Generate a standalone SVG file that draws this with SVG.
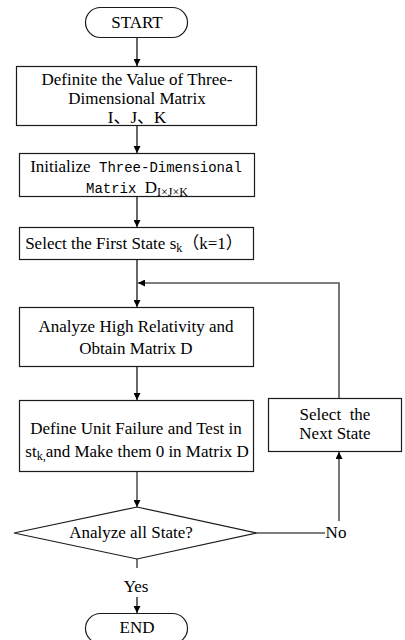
<svg xmlns="http://www.w3.org/2000/svg" width="405" height="640" viewBox="0 0 405 640">
  <style>
    .box { fill: #fff; stroke: #1a1a1a; stroke-width: 1.2; }
    .t { font-family: "Liberation Serif", "Noto Sans CJK SC", serif; font-size: 17px; fill: #000; text-anchor: middle; }
    .mono { font-family: "Liberation Mono", monospace; font-size: 14px; }
    .sub { font-size: 12px; }
    .ln { fill: none; stroke: #000; stroke-width: 1.2; }
    .lg { fill: none; stroke: #555; stroke-width: 1.6; }
  </style>
  <defs>
    <marker id="arr" viewBox="0 0 10 10" refX="10" refY="5" markerWidth="7" markerHeight="7" markerUnits="userSpaceOnUse" orient="auto">
      <path d="M0,0 L10,5 L0,10 Z" fill="#000"/>
    </marker>
  </defs>

  <!-- connectors -->
  <g id="connectors">
    <line class="ln" x1="137" y1="37" x2="137" y2="66" marker-end="url(#arr)"/>
    <line class="ln" x1="137" y1="126" x2="137" y2="153" marker-end="url(#arr)"/>
    <line class="ln" x1="137" y1="197" x2="137" y2="227" marker-end="url(#arr)"/>
    <line class="ln" x1="137" y1="259" x2="137" y2="307" marker-end="url(#arr)"/>
    <polyline class="lg" points="339,398 339,283 138,283" marker-end="url(#arr)"/>
    <line class="ln" x1="137" y1="367" x2="137" y2="400" marker-end="url(#arr)"/>
    <line class="lg" x1="137" y1="472" x2="137" y2="507" marker-end="url(#arr)"/>
    <line class="lg" x1="257" y1="533" x2="325" y2="533"/>
    <line class="lg" x1="339" y1="521" x2="339" y2="452" marker-end="url(#arr)"/>
    <line class="lg" x1="137" y1="559" x2="137" y2="568"/>
    <line class="ln" x1="137" y1="597" x2="137" y2="613" marker-end="url(#arr)"/>
    <text class="t" x="336" y="538">No</text>
    <text class="t" x="136" y="592">Yes</text>
  </g>

  <g id="start">
    <rect class="box" x="85.5" y="7.5" width="102" height="30" rx="15"/>
    <text class="t" x="137" y="28">START</text>
  </g>

  <g id="define-ijk">
    <rect class="box" x="16.5" y="66.5" width="240" height="59"/>
    <text class="t" x="137" y="85">Definite the Value of Three-</text>
    <text class="t" x="137" y="104">Dimensional Matrix</text>
    <text class="t" x="137" y="123">I、J、K</text>
  </g>

  <g id="init-matrix">
    <rect class="box" x="19.5" y="153.5" width="235" height="43"/>
    <text class="t" x="136" y="172">Initialize<tspan class="mono"> Three-Dimensional</tspan></text>
    <text class="t" x="137" y="193"><tspan class="mono">Matrix </tspan>D<tspan class="sub" dy="3">I×J×K</tspan></text>
  </g>

  <g id="first-state">
    <rect class="box" x="19.5" y="227.5" width="234" height="32"/>
    <text class="t" x="134" y="249">Select the First State s<tspan class="sub" dy="3">k</tspan><tspan dy="-3">（k=1）</tspan></text>
  </g>

  <g id="relativity">
    <rect class="box" x="19.5" y="307.5" width="234" height="59"/>
    <text class="t" x="136" y="332">Analyze High Relativity and</text>
    <text class="t" x="136" y="354">Obtain Matrix D</text>
  </g>

  <g id="unit-failure">
    <rect class="box" x="19.5" y="400.5" width="234" height="71"/>
    <text class="t" x="136" y="434">Define Unit Failure and Test in</text>
    <text class="t" x="137" y="457">st<tspan class="sub" dy="3">k,</tspan><tspan dy="-3">and Make them 0 in Matrix D</tspan></text>
  </g>

  <g id="next-state">
    <rect class="box" x="268.5" y="398.5" width="133" height="53"/>
    <text class="t" x="335" y="420" xml:space="preserve">Select  the</text>
    <text class="t" x="335" y="439">Next State</text>
  </g>

  <g id="all-state">
    <polygon class="box" points="14,533 137,507 257,533 137,559"/>
    <text class="t" x="131" y="538">Analyze all State?</text>
  </g>

  <g id="end">
    <rect class="box" x="85.5" y="613.5" width="102" height="30" rx="15"/>
    <text class="t" x="137" y="633">END</text>
  </g>
</svg>
